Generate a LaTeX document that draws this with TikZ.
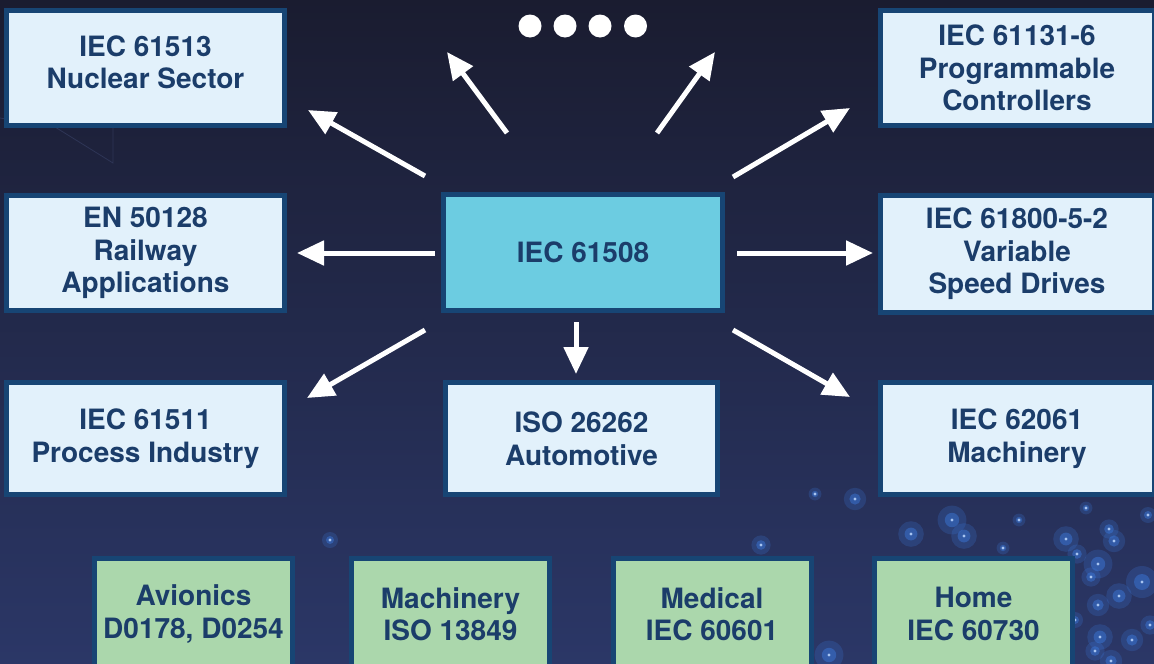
\documentclass[tikz,border=0pt]{standalone}
\usepackage{fontspec}
\setmainfont{TeX Gyre Heros}
\usetikzlibrary{arrows.meta}
\definecolor{bgtop}{HTML}{1A1C30}
\definecolor{bgbot}{HTML}{2B3767}
\definecolor{edgeblue}{HTML}{174574}
\definecolor{lightfill}{HTML}{E2F1FB}
\definecolor{cyanfill}{HTML}{6CCCE1}
\definecolor{greenfill}{HTML}{ABD7AC}
\definecolor{txtblue}{HTML}{1B3D6A}
\definecolor{glowblue}{HTML}{3C7BE0}
\definecolor{faintline}{HTML}{2E3556}
\begin{document}
\begin{tikzpicture}[x=1pt,y=-1pt,
  stdbox/.style={draw=edgeblue, line width=5pt, fill=lightfill, text=txtblue,
    font=\bfseries\fontsize{28}{32.5}\selectfont, align=center, inner sep=0pt,
    minimum width=278pt, minimum height=115pt},
  corebox/.style={stdbox, fill=cyanfill, minimum width=279pt, minimum height=116pt},
  greenbox/.style={stdbox, fill=greenfill, minimum width=198pt, minimum height=111pt},
  arr/.style={draw=white, line width=5pt, -{Triangle[length=27pt,width=24pt]}},
  dotnode/.style={circle, fill=white, inner sep=0pt, minimum size=23pt},
  glowhalo/.style={fill=glowblue, opacity=0.22},
  glowmid/.style={fill=glowblue, opacity=0.45},
  glowcore/.style={fill=white!55!glowblue}
]
\useasboundingbox (0,0) rectangle (1154,664);
\shade[top color=bgtop, bottom color=bgbot] (0,0) rectangle (1154,664);
\draw[faintline, line width=0.8pt] (0,118) -- (55,127) -- (113,163) -- (113,128);

% sparkles
\foreach \x/\y/\r in {855/499/7, 815/494/4, 761/545/6, 829/655/9, 952/520/9, 911/534/8, 964/536/8,
  1019/520/4, 1003/548/4, 1066/539/8, 1077/554/6, 1098/564/9, 1109/529/6, 1114/541/7, 1086/508/4,
  1148/515/5, 1142/582/10, 1119/596/8, 1098/605/7, 1100/637/8, 1091/577/6, 1132/640/7,
  1111/661/7, 1095/651/6, 330/540/5, 1075/620/5, 1150/625/6} {
  \fill[glowhalo] (\x,\y) circle (\r*1.6);
  \fill[glowmid] (\x,\y) circle (\r*0.8);
  \fill[glowcore] (\x,\y) circle (1.6);
}

% central standard
\node[corebox] (core) at (583,252.5) {IEC 61508};

% left column
\node[stdbox, text depth=12pt] (nuclear) at (145.5,68) {IEC 61513\\Nuclear Sector};
\node[stdbox] (railway) at (145.5,253) {EN 50128\\Railway\\Applications};
\node[stdbox, minimum height=112pt] (process) at (145.5,438.5) {IEC 61511\\Process Industry};

% centre column
\node[stdbox, minimum width=272pt, minimum height=112pt] (auto) at (581.5,438.5) {ISO 26262\\Automotive};

% right column
\node[stdbox, minimum width=274pt] (plc) at (1017,68) {IEC 61131-6\\Programmable\\Controllers};
\node[stdbox, minimum width=274pt, minimum height=117pt] (drives) at (1017,254) {IEC 61800-5-2\\Variable\\Speed Drives};
\node[stdbox, minimum width=274pt, minimum height=112pt] (machinery) at (1017,438.5) {IEC 62061\\Machinery};

% green row
\node[greenbox] (avionics) at (193.5,614) {Avionics\\D0178, D0254};
\node[greenbox] (iso13849) at (450.5,614) {Machinery\\ISO 13849};
\node[greenbox] (medical) at (712,614) {Medical\\IEC 60601};
\node[greenbox] (home) at (973.5,614) {Home\\IEC 60730};

% ellipsis dots
\node[dotnode] (d1) at (530,26) {};
\node[dotnode] (d2) at (565,26) {};
\node[dotnode] (d3) at (600,26) {};
\node[dotnode] (d4) at (635.5,26) {};

% arrow end points
\coordinate (nucS) at (425,176);  \coordinate (nucE) at (308,110);
\coordinate (ulS) at (507,133);   \coordinate (ulE) at (447,52);
\coordinate (urS) at (657,133);   \coordinate (urE) at (715,52);
\coordinate (plcS) at (733,177);  \coordinate (plcE) at (850,108);
\coordinate (railS) at (435,253); \coordinate (railE) at (297,253);
\coordinate (drvS) at (737,253);  \coordinate (drvE) at (873,253);
\coordinate (procS) at (425,330); \coordinate (procE) at (307,398);
\coordinate (autoS) at (576,322); \coordinate (autoE) at (576,374);
\coordinate (machS) at (733,330); \coordinate (machE) at (850,397);

\draw[arr] (nucS) -- (nucE);
\draw[arr] (ulS) -- (ulE);
\draw[arr] (urS) -- (urE);
\draw[arr] (plcS) -- (plcE);
\draw[arr] (railS) -- (railE);
\draw[arr] (drvS) -- (drvE);
\draw[arr] (procS) -- (procE);
\draw[arr] (autoS) -- (autoE);
\draw[arr] (machS) -- (machE);
\end{tikzpicture}
\end{document}
